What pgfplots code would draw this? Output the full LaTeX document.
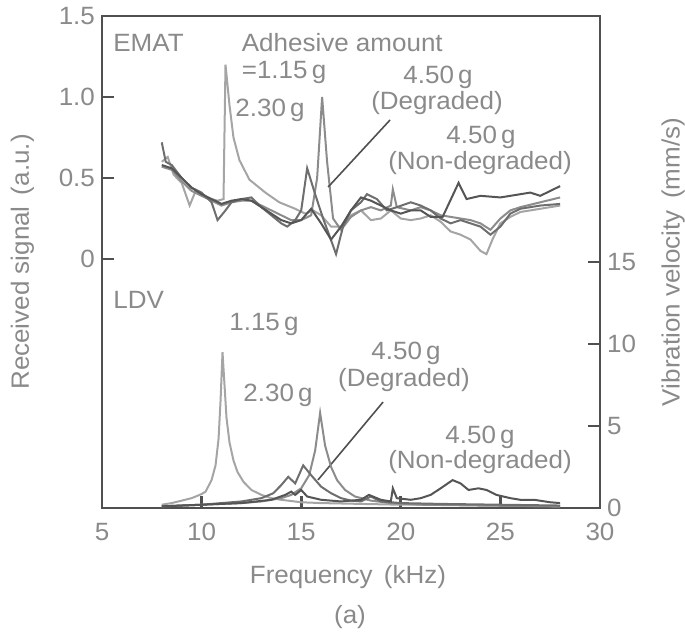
\documentclass[border=0pt]{standalone}
\usepackage{fontspec}
\setmainfont{Liberation Sans}[FakeStretch=1.04]
\usepackage{pgfplots}
\pgfplotsset{compat=1.18}

\definecolor{axisc}{RGB}{80,80,80}
\definecolor{txtc}{RGB}{138,138,138}
\definecolor{cA}{RGB}{165,165,165}
\definecolor{cB}{RGB}{140,140,140}
\definecolor{cC}{RGB}{110,110,110}
\definecolor{cD}{RGB}{85,85,85}

\newcommand{\lbl}{\fontsize{12.5}{15}\selectfont}

\begin{document}
\begin{tikzpicture}

\pgfplotsset{
  common/.style={
    scale only axis, width=249pt, height=246pt,
    xmin=5, xmax=30,
    tick align=inside, major tick length=6pt,
    axis line style={axisc, line width=1.4pt},
    tick style={axisc, line width=1.4pt},
    ticklabel style={txtc, font=\lbl},
    label style={txtc, font=\lbl},
    /pgf/number format/assume math mode=true,
    clip=false,
  }
}

% EMAT, received signal (left axis)
\begin{axis}[common, name=ax,
  ymin=-1.537, ymax=1.5,
  xtick={5,10,...,30},
  ytick={0,0.5,1,1.5}, yticklabels={0,0.5,1.0,1.5},
  ytick pos=left, xtick pos=bottom,
  xticklabel style={yshift=-4pt},
  xlabel={Frequency\hspace{0.45em}(kHz)},
  xlabel style={at={(axis description cs:0.494,-0.14)}, anchor=center},
  ylabel={Received signal\hspace{0.45em}(a.u.)},
  ylabel style={at={(axis description cs:-0.16,0.5)}, anchor=center},
]
% 1.15 g
\addplot[cA, line width=1pt] table {
8.0 0.60
8.3 0.63
8.6 0.52
9.0 0.47
9.4 0.33
9.7 0.42
10.2 0.38
10.8 0.36
11.1 0.37
11.2 1.20
11.4 0.95
11.6 0.75
11.9 0.61
12.4 0.49
13.2 0.41
13.9 0.35
14.7 0.31
15.2 0.28
15.6 0.30
16.0 0.27
16.5 0.20
17.0 0.20
17.5 0.27
18.0 0.30
18.5 0.24
19.0 0.25
19.5 0.30
20.0 0.25
20.5 0.24
21.0 0.25
21.5 0.27
22.0 0.23
22.5 0.17
23.0 0.15
23.5 0.12
24.0 0.05
24.3 0.03
24.6 0.12
25.0 0.22
25.5 0.26
26.0 0.29
27.0 0.31
28.0 0.33
};
% 2.30 g
\addplot[cB, line width=1pt] table {
8.0 0.57
8.5 0.55
9.0 0.48
9.5 0.42
10.0 0.39
10.5 0.36
11.0 0.33
11.5 0.35
12.0 0.36
12.5 0.36
13.0 0.33
13.5 0.30
14.0 0.27
14.5 0.24
15.0 0.24
15.5 0.27
15.8 0.50
16.05 1.00
16.3 0.60
16.6 0.25
17.0 0.18
17.5 0.26
18.0 0.30
18.5 0.32
19.0 0.30
19.5 0.33
19.6 0.43
19.8 0.32
20.5 0.30
21.0 0.32
21.5 0.30
22.0 0.27
22.5 0.26
23.0 0.25
23.5 0.24
24.0 0.22
24.5 0.18
25.0 0.25
25.5 0.30
26.0 0.32
27.0 0.35
28.0 0.38
};
% 4.50 g degraded
\addplot[cC, line width=1pt] table {
8.0 0.72
8.2 0.60
8.5 0.58
9.0 0.50
9.5 0.44
10.0 0.41
10.5 0.35
10.8 0.24
11.2 0.30
11.5 0.35
12.0 0.37
12.5 0.38
13.0 0.32
13.5 0.27
14.0 0.22
14.3 0.20
14.7 0.24
15.0 0.30
15.3 0.56
15.7 0.40
16.1 0.25
16.4 0.15
16.75 0.03
17.1 0.20
17.5 0.30
18.0 0.35
18.3 0.40
18.8 0.37
19.3 0.30
19.8 0.32
20.5 0.35
21.0 0.33
21.5 0.30
22.0 0.25
22.5 0.22
23.0 0.24
23.5 0.22
24.0 0.20
24.5 0.15
25.0 0.20
25.5 0.28
26.0 0.31
27.0 0.33
28.0 0.34
};
% 4.50 g non-degraded
\addplot[cD, line width=1pt] table {
8.0 0.58
8.5 0.56
9.0 0.50
9.5 0.44
10.0 0.40
10.5 0.37
11.0 0.34
11.5 0.36
12.0 0.37
12.5 0.36
13.0 0.32
13.5 0.28
14.0 0.24
14.5 0.22
15.0 0.24
15.5 0.31
16.0 0.22
16.5 0.12
17.0 0.20
17.5 0.30
18.0 0.38
18.5 0.36
19.0 0.33
19.5 0.30
20.0 0.28
20.5 0.30
21.0 0.30
21.5 0.26
22.1 0.26
22.9 0.47
23.3 0.37
24.0 0.39
25.0 0.38
26.0 0.40
26.5 0.41
27.0 0.39
27.5 0.42
28.0 0.45
};

% annotations, EMAT
\begin{scope}[every node/.style={txtc, font=\lbl, inner sep=0pt}]
\node[anchor=west] at (axis cs:5.55,1.333) {EMAT};
\node[anchor=west] at (axis cs:12.0,1.333) {Adhesive amount};
\node[anchor=west] at (axis cs:12.0,1.154) {=1.15\,g};
\node[anchor=west] at (axis cs:11.68,0.92) {2.30\,g};
\node at (axis cs:21.87,1.123) {4.50\,g};
\node at (axis cs:21.82,0.963) {(Degraded)};
\node at (axis cs:24.03,0.753) {4.50\,g};
\node at (axis cs:23.98,0.593) {(Non-degraded)};
% annotations, LDV
\node[anchor=west] at (axis cs:5.55,-0.253) {LDV};
\node at (axis cs:13.13,-0.407) {1.15\,g};
\node at (axis cs:13.84,-0.840) {2.30\,g};
\node at (axis cs:20.26,-0.580) {4.50\,g};
\node at (axis cs:20.16,-0.747) {(Degraded)};
\node at (axis cs:23.98,-1.099) {4.50\,g};
\node at (axis cs:23.98,-1.253) {(Non-degraded)};
\node at (axis cs:17.45,-2.21) {(a)};
\end{scope}
\draw[axisc, line width=0.8pt] (axis cs:19.46,0.858) -- (axis cs:16.35,0.444);
\draw[axisc, line width=0.8pt] (axis cs:19.11,-0.883) -- (axis cs:15.84,-1.364);
\end{axis}

% LDV, vibration velocity (right axis)
\begin{axis}[common,
  ymin=0, ymax=30,
  axis x line=none, axis y line*=right,
  ytick={0,5,10,15},
  ylabel={Vibration velocity\hspace{0.45em}(mm/s)},
  ylabel style={at={(axis description cs:1.147,0.5)}, anchor=center, rotate=0},
]
% 1.15 g
\addplot[cA, line width=1pt] table {
8.0 0.20
8.5 0.30
9.0 0.45
9.5 0.60
10.0 0.85
10.2 1.00
10.5 1.70
10.7 2.60
10.85 4.20
10.95 6.50
11.05 9.50
11.15 7.50
11.25 5.50
11.4 4.00
11.6 2.90
11.8 2.20
12.1 1.60
12.5 1.10
13.0 0.80
13.5 0.60
14.0 0.50
15.0 0.35
16.0 0.30
18.0 0.25
20.0 0.20
22.0 0.20
25.0 0.15
28.0 0.10
};
% 2.30 g
\addplot[cB, line width=1pt] table {
8.0 0.10
10.0 0.20
12.0 0.30
13.0 0.40
14.0 0.60
14.5 0.80
15.0 1.20
15.4 2.00
15.7 3.50
15.95 5.80
16.2 3.80
16.5 2.50
16.8 1.70
17.2 1.10
17.7 0.70
18.5 0.45
19.5 0.30
21.0 0.20
24.0 0.15
28.0 0.10
};
% 4.50 g degraded
\addplot[cC, line width=1pt] table {
8.0 0.10
10.0 0.20
12.0 0.40
13.0 0.60
13.6 0.90
14.0 1.40
14.35 1.90
14.7 1.50
15.1 2.60
15.5 2.00
16.0 1.30
16.5 0.90
17.0 0.60
17.5 0.45
18.0 0.40
18.5 0.70
19.0 0.40
20.0 0.30
22.0 0.25
25.0 0.20
28.0 0.15
};
% 4.50 g non-degraded
\addplot[cD, line width=1pt] table {
8.0 0.10
10.0 0.20
12.0 0.30
13.5 0.50
14.2 0.80
14.5 1.00
14.7 0.80
15.0 1.10
15.3 0.70
16.0 0.50
17.0 0.40
18.0 0.50
18.4 0.80
19.0 0.50
19.5 0.40
19.6 1.20
19.8 0.60
20.5 0.50
21.0 0.60
21.5 0.80
22.0 1.20
22.6 1.70
23.0 1.50
23.4 1.10
23.9 1.20
24.3 1.10
24.8 0.80
25.5 0.60
26.0 0.50
26.7 0.50
27.5 0.35
28.0 0.30
};
\end{axis}

\pgfresetboundingbox
\path[use as bounding box] ([xshift=-51pt,yshift=-62pt]ax.south west) rectangle ([xshift=42.5pt,yshift=8pt]ax.north east);
\end{tikzpicture}
\end{document}
